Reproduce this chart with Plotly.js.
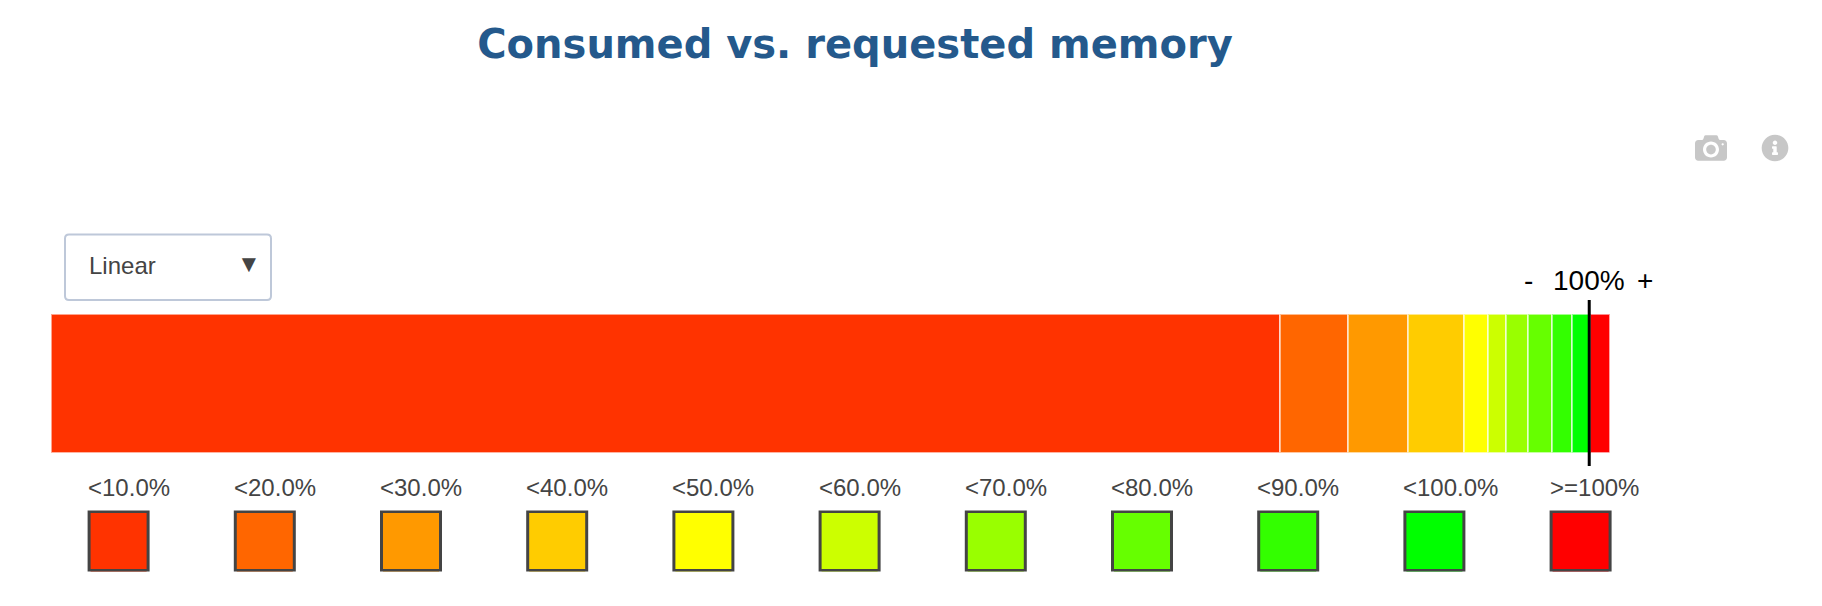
<!DOCTYPE html>
<html><head><meta charset="utf-8">
<script src="https://cdn.plot.ly/plotly-3.0.1.min.js"></script>
<style>
html,body{margin:0;padding:0;background:#fff;overflow:hidden}
#c{width:1822px;height:606px;position:relative}
.modebar-container{position:absolute!important;inset:0!important;pointer-events:none}
.modebar{position:absolute!important;left:1695px!important;top:130px!important;right:auto!important;display:block!important;pointer-events:auto;width:110px}
.modebar-group{padding:0!important;margin:0!important;display:flex!important;background:transparent!important}
.modebar-btn{font-size:32px!important;height:auto!important;padding:0!important;margin:0 32px 0 0!important;position:relative}
.modebar-btn svg{position:static!important;top:0!important}
</style>
</head><body><div id="c"></div>
<script>
var W = 1822, H = 606;
var categories = ['<10.0%','<20.0%','<30.0%','<40.0%','<50.0%','<60.0%','<70.0%','<80.0%','<90.0%','<100.0%','>=100%'];
var seriesValues = [78.85,4.35,3.85,3.59,1.54,1.16,1.41,1.54,1.28,1.12,1.30];
var seriesColors = ['#ff3300','#ff6600','#ff9900','#ffcc00','#ffff00','#ccff00','#99ff00','#66ff00','#33ff00','#00ff00','#ff0000'];
var scaleLabel = 'Linear';
var titleText = 'Consumed vs. requested memory';

var total = seriesValues.reduce(function(a,b){return a+b;},0);
var mark100 = total - seriesValues[seriesValues.length-1];
var sans = 'Arial, "Liberation Sans", sans-serif';
function px(x){return x/W;}
function py(y){return 1-y/H;}

var traces = categories.map(function(c,i){
  return {type:'bar',orientation:'h',name:c,x:[seriesValues[i]],y:[0],width:1,
    marker:{color:seriesColors[i],line:{color:'rgba(255,255,255,0.55)',width:2}},
    hoverinfo:'name+x',showlegend:false,xaxis:'x',yaxis:'y'};
});
/* thin coloured edge peeking out beneath each legend swatch */
traces.push({type:'scatter',mode:'markers',x:categories,y:categories.map(function(){return -0.13;}),
  marker:{symbol:'square',size:56,color:seriesColors,line:{width:0}},
  hoverinfo:'skip',showlegend:false,xaxis:'x2',yaxis:'y2'});
traces.push({type:'scatter',mode:'markers',x:categories,y:categories.map(function(){return 0;}),
  marker:{symbol:'square',size:59,color:seriesColors,line:{color:'#444',width:3}},
  hoverinfo:'skip',showlegend:false,xaxis:'x2',yaxis:'y2'});

var annotations = categories.map(function(c){
  return {text:c,x:c,xref:'x2',xshift:-32,y:py(495),yref:'paper',xanchor:'left',yanchor:'bottom',yshift:-7,
    showarrow:false,align:'left',font:{family:sans,size:24,color:'#444'},borderpad:0};
});
[['-',-61],['100%',0],['+',56]].forEach(function(a){
  annotations.push({text:a[0],x:mark100,xref:'x',xshift:a[1],y:py(280),yref:'paper',xanchor:'center',yanchor:'middle',
    showarrow:false,font:{family:sans,size:28,color:'#000'},borderpad:0});
});
annotations.push({text:scaleLabel,x:px(88),xref:'paper',xanchor:'left',y:py(265),yref:'paper',yanchor:'middle',
  showarrow:false,font:{family:sans,size:24,color:'#444'},borderpad:0});
annotations.push({text:'▼',x:px(249),xref:'paper',xanchor:'center',y:py(263),yref:'paper',yanchor:'middle',
  showarrow:false,font:{family:sans,size:24,color:'#444'},borderpad:0});

function roundedRect(x0,y0,x1,y1,r){
  return 'M'+px(x0+r)+','+py(y0)+' L'+px(x1-r)+','+py(y0)+' Q'+px(x1)+','+py(y0)+' '+px(x1)+','+py(y0+r)+
    ' L'+px(x1)+','+py(y1-r)+' Q'+px(x1)+','+py(y1)+' '+px(x1-r)+','+py(y1)+
    ' L'+px(x0+r)+','+py(y1)+' Q'+px(x0)+','+py(y1)+' '+px(x0)+','+py(y1-r)+
    ' L'+px(x0)+','+py(y0+r)+' Q'+px(x0)+','+py(y0)+' '+px(x0+r)+','+py(y0)+' Z';
}

var layout = {
  width:W,height:H,margin:{l:0,r:0,t:0,b:0},autosize:false,
  paper_bgcolor:'#fff',plot_bgcolor:'#fff',showlegend:false,barmode:'stack',bargap:0,
  title:{text:titleText,x:px(855),xref:'paper',xanchor:'center',y:py(44),yref:'paper',yanchor:'middle',
    font:{family:'"DejaVu Sans"',size:40,color:'#24598c',weight:700}},
  xaxis:{domain:[px(50.5),px(1609.5)],range:[0,total],visible:false,fixedrange:true},
  yaxis:{domain:[py(452.5),py(313.5)],range:[-0.5,0.5],visible:false,fixedrange:true},
  xaxis2:{domain:[px(45.5),px(1653.7)],type:'category',range:[-0.5,10.5],visible:false,fixedrange:true,anchor:'y2',categoryorder:'array',categoryarray:categories},
  yaxis2:{domain:[py(571.5),py(510.5)],range:[-1,1],visible:false,fixedrange:true,anchor:'x2'},
  shapes:[
    {type:'line',xref:'x',x0:mark100,x1:mark100,yref:'paper',y0:py(466),y1:py(300),line:{color:'#000',width:3},layer:'above'},
    {type:'path',xref:'paper',yref:'paper',path:roundedRect(65,234.5,271,300,4),line:{color:'#bec8d9',width:2},fillcolor:'#fff',layer:'below'}
  ],
  annotations:annotations,
  modebar:{bgcolor:'rgba(0,0,0,0)',color:'rgba(68,68,68,0.3)',activecolor:'rgba(68,68,68,0.7)'}
};
var infoIcon = {width:512,height:512,transform:'matrix(0.86 0 0 0.86 36 36)',
  path:'M256 8C119.043 8 8 119.083 8 256c0 136.997 111.043 248 248 248s248-111.003 248-248C504 119.083 392.957 8 256 8zm0 110c23.196 0 42 18.804 42 42s-18.804 42-42 42-42-18.804-42-42 18.804-42 42-42zm56 254c0 6.627-5.373 12-12 12h-88c-6.627 0-12-5.373-12-12v-24c0-6.627 5.373-12 12-12h12v-64h-12c-6.627 0-12-5.373-12-12v-24c0-6.627 5.373-12 12-12h64c6.627 0 12 5.373 12 12v100h12c6.627 0 12 5.373 12 12v24z'};
Plotly.newPlot('c',traces,layout,{displayModeBar:true,displaylogo:false,responsive:false,
  modeBarButtons:[['toImage',{name:'Info',title:'Info',icon:infoIcon,click:function(){}}]]});
</script></body></html>
